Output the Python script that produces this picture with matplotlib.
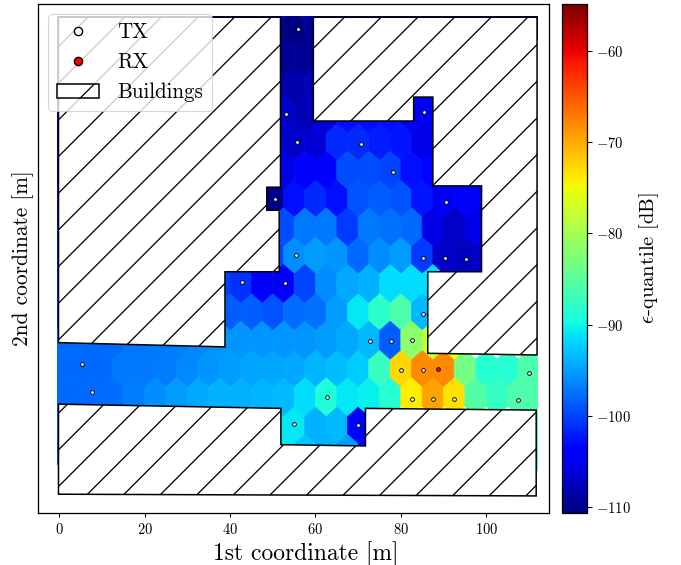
import numpy as np
import matplotlib
matplotlib.use("Agg")
import matplotlib.pyplot as plt
from matplotlib.lines import Line2D
from matplotlib.patches import Polygon, Rectangle

DPI = 220
plt.rcParams.update({
    "font.family": "serif", "font.serif": ["cmr10"], "mathtext.fontset": "cm",
    "axes.formatter.use_mathtext": True, "axes.unicode_minus": False,
    "hatch.linewidth": 0.42, "axes.linewidth": 0.42,
})

# Hexagon cells: (row y, first x, values stepping 5 m in x)
row_116 = (115.9, -2.5, [-107.5]*24)
row_109 = (109.26, 0, [-108]*10 + [-109.5, -110.5, -109.5] + [-108]*10)
row_103 = (102.63, 52.5, [-109.5, -109.5])
row_96 = (95.99, 50, [-108.5, -108.5, -108])
row_96b = (95.99, 85, [-105])
row_89 = (89.36, 52.5, [-107, -108, -106.5, -103, -103, -103, -105, -105])
row_83 = (82.72, 50, [-106.5, -107, -106.5, -101.5, -101.5, -102, -102.5, -105.5])
row_76 = (76.09, 47.5, [-110, -105.5, -104.5, -104.5, -99.5, -99.5, -100, -103, -103.5, -105, -105])
row_69 = (69.45, 50, [-110, -103, -101.5, -103, -99, -98.5, -99, -102.5, -105, -104.8, -105])
row_63 = (62.82, 47.5, [-110, -99.5, -97, -97, -100.5, -97, -97.5, -98, -105.5, -107, -105.5, -105])
row_56 = (56.18, 40, [-101, -104, -100, -96, -95, -95.5, -98, -96, -95, -100.5, -107, -107.5, -107])
row_50 = (49.55, 37.5, [-100, -101, -104.7, -105, -100, -96, -94.5, -94, -91.5, -91.5, -91.5, -107, -107])
row_43 = (42.91, 35, [-98, -98.5, -98.5, -99, -97.8, -97.5, -95, -91, -88, -86, -93.5, -93])
row_36 = (36.28, -2.5, [-98, -98, -98, -98, -97, -97, -96.8, -96.2, -95.5, -95.5, -95.5,
                        -95.5, -95.5, -95, -94.5, -93.5, -98.5, -81.5, -78, -75])
row_30 = (29.64, 0, [-98, -98, -98, -97, -97, -96.8, -96.2, -95.5, -95, -94.7, -94.7, -94.5,
                     -93.7, -93.3, -92.5, -87.5, -72.7, -68, -68, -83, -88.5, -88.5, -86])
row_23 = (23.01, -2.5, [-98, -98, -98, -97.8, -96.8, -96, -95, -94.5, -94, -94, -93.7, -93.5,
                        -91.5, -89, -91, -90.5, -88.5, -74, -69.5, -73.2, -85.5, -87.5, -86, -86])
row_16 = (16.37, 50, [-91, -91, -94, -93.5, -103.5, -90])
row_10 = (9.74, 52.5, [-91, -93, -94, -95, -104])

all_rows = [row_116, row_109, row_103, row_96, row_96b, row_89, row_83, row_76, row_69,
            row_63, row_56, row_50, row_43, row_36, row_30, row_23, row_16, row_10]

# Cells along the left and right walls, only a sliver of them shows
edge_x = [0, 0, 0, 0, 0, 0, -2.5, 2.5, -2.5, 2.5, -2.5, 2.5, -2.5, 2.5, -2.5, 2.5, -2.5, 2.5, 110, 112.5]
edge_y = [95.99, 82.72, 69.45, 56.18, 42.91, 16.37, 102.63, 102.63, 89.36, 89.36, 76.09, 76.09,
          62.82, 62.82, 49.55, 49.55, 9.74, 9.74, 16.37, 9.74]
edge_vals = [-106, -104, -103, -102, -101, -98, -107, -107, -105, -105, -103.5, -103.5,
             -102.5, -102.5, -101.5, -101.5, -98.5, -98.5, -86, -86]

# Buildings (outline vertices, metres)
building_upper_left = [(-0.2, 111.9), (51.8, 111.9), (51.8, 72.1), (48.6, 72.1), (48.6, 66.7),
                       (51.5, 66.7), (51.5, 52.3), (38.8, 52.3), (38.8, 34.7), (-0.2, 35.7)]
building_upper_right = [(59.5, 111.9), (59.5, 87.6), (83.0, 87.6), (83.0, 93.2), (87.5, 93.2),
                        (87.5, 72.4), (98.9, 72.4), (98.9, 52.3), (86.3, 52.3), (86.3, 33.2),
                        (111.9, 32.8), (111.9, 111.9)]
building_lower = [(-0.2, 21.3), (51.9, 20.3), (51.9, 11.8), (71.7, 11.5), (71.7, 20.3),
                  (111.7, 19.9), (111.7, -0.2), (-0.2, 0.2)]

# Transmitters and receiver
tx_x = [55.8, 53.2, 55.7, 70.6, 78.1, 85.5, 90.5, 50.5, 55.4, 85.3, 90.3, 95.3, 42.9, 52.9, 5.2,
        7.7, 55.0, 85.2, 72.7, 77.7, 82.7, 80.1, 85.1, 62.8, 82.6, 87.6, 92.5, 110.1, 107.5, 70.0]
tx_y = [109.1, 89.2, 82.6, 82.3, 75.6, 89.6, 68.7, 69.4, 56.2, 55.6, 55.5, 55.4, 49.8, 49.6, 30.7,
        24.1, 16.6, 42.4, 36.1, 36.0, 36.3, 29.3, 29.2, 23.0, 22.6, 22.6, 22.5, 28.7, 22.2, 16.3]
rx_x = [88.7]
rx_y = [29.5]

cbar_ticks = [-110, -100, -90, -80, -70, -60]
cbar_labels = ["$-110$", "$-100$", "$-90$", "$-80$", "$-70$", "$-60$"]
x_ticks = [0, 20, 40, 60, 80, 100]
vmin, vmax = -110.7, -54.8

# The canvas is 5 rows taller so that the hatch tile falls where it does in the reference;
# those rows are trimmed from the top of the saved image.
W, H, EXTRA = 681, 565, 5
CH = H + EXTRA
fig = plt.figure(figsize=(W/DPI, CH/DPI), dpi=DPI)
ax = fig.add_axes([38/W, (H-513)/CH, (549-38)/W, (513-4)/CH])

xs, ys, cs = list(edge_x), list(edge_y), list(edge_vals)
for y, x0, vals in all_rows:
    for i, v in enumerate(vals):
        xs.append(x0 + 5*i); ys.append(y); cs.append(v)

hb = ax.hexbin(xs, ys, C=cs, gridsize=(24, 10), extent=(-5, 115, -10.17, 122.53),
               cmap="jet", vmin=vmin, vmax=vmax, linewidths=0.25, edgecolors="face", zorder=1)
hb.set_clip_path(Rectangle((-0.45, -1), 112.55, 113.2, transform=ax.transData))

building_patches = []
for pts in [building_upper_left, building_upper_right, building_lower]:
    building_patches.append(ax.add_patch(Polygon(pts, closed=True, facecolor="white",
                            edgecolor="black", hatch="//", linewidth=0.5, zorder=2)))

ax.scatter(tx_x, tx_y, s=1.5, c="white", edgecolors="black", linewidths=0.3, zorder=3)
ax.scatter(rx_x, rx_y, s=1.5, c="red", edgecolors="black", linewidths=0.3, zorder=3)

ax.set_xlim(-5, 114.7)
ax.set_ylim(-4.2, 115)
ax.set_xticks(x_ticks)
ax.set_yticks([])
ax.tick_params(axis="x", length=1.3, width=0.35, labelsize=4.75, pad=1.6)
ax.set_xlabel("1st coordinate [m]", fontsize=7.7, labelpad=1.4, x=0.5235)
ax.set_ylabel("2nd coordinate [m]", fontsize=7.0, labelpad=1.2)

tx_handle = Line2D([], [], ls="", marker="o", mfc="white", mec="black", ms=2.7, mew=0.45)
rx_handle = Line2D([], [], ls="", marker="o", mfc="red", mec="black", ms=2.7, mew=0.45)
leg = ax.legend([tx_handle, rx_handle, building_patches[0]], ["TX", "RX", "Buildings"],
                loc="upper left", fontsize=6.85, handlelength=2.0, handletextpad=0.9,
                labelspacing=0.5, fancybox=True, framealpha=0.8)
leg.get_frame().set_linewidth(0.35)

cax = fig.add_axes([562/W, (H-513)/CH, (587-562)/W, (513-4)/CH])
cb = fig.colorbar(hb, cax=cax, ticks=cbar_ticks)
cb.ax.set_yticklabels(cbar_labels)
cb.ax.tick_params(length=1.6, width=0.35, labelsize=4.8, pad=1.5)
cb.outline.set_linewidth(0.42)
cb.set_label(r"$\epsilon$-quantile [dB]", fontsize=6.75, labelpad=2)

fig.savefig("out.png", dpi=DPI)
plt.imsave("out.png", plt.imread("out.png")[EXTRA:])
